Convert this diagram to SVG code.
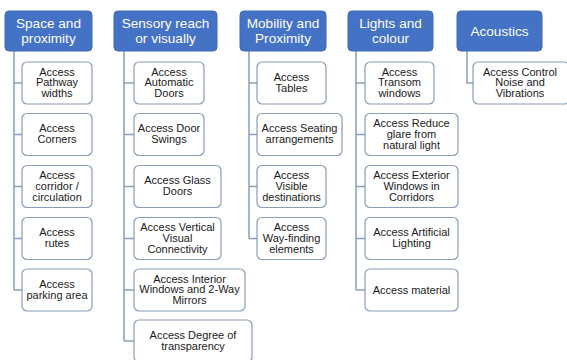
<svg xmlns="http://www.w3.org/2000/svg" width="567" height="360" viewBox="0 0 567 360">
<style>
.hd rect{fill:#4472C4;stroke:#3F69B5;stroke-width:1}
.hd text{fill:#fff;font-family:"Liberation Sans",Arial,sans-serif;font-size:13.6px;text-anchor:middle}
.bx rect{fill:#fff;stroke:#8A9DB8;stroke-width:1.2}
.bx text{fill:#1a1a1a;font-family:"Liberation Sans",Arial,sans-serif;font-size:11px;text-anchor:middle}
#connectors path{fill:none;stroke:#8A9DB8;stroke-width:1.5}
</style>
<rect width="567" height="360" fill="#fff"/>
<g id="connectors">
<path d="M14 51V290M14 83H22M14 134.5H22M14 186.5H22M14 238.5H22M14 290H22"/>
<path d="M124 51V341M124 83H134M124 134.5H134M124 186.5H134M124 238.5H134M124 290H134M124 341H134"/>
<path d="M249 51V238.5M249 83H257M249 134.5H257M249 186.5H257M249 238.5H257"/>
<path d="M356 51V290M356 83H365M356 134.5H365M356 186.5H365M356 238.5H365M356 290H365"/>
<path d="M467 51V83H473"/>
</g>
<g id="h1" class="hd"><rect x="5" y="11" width="87" height="40" rx="4"/><text x="48.5" y="28">Space and</text><text x="48.5" y="43.3">proximity</text></g>
<g id="h2" class="hd"><rect x="114" y="11" width="103" height="40" rx="4"/><text x="165.5" y="28">Sensory reach</text><text x="165.5" y="43.3">or visually</text></g>
<g id="h3" class="hd"><rect x="240" y="11" width="86" height="40" rx="4"/><text x="283" y="28">Mobility and</text><text x="283" y="43.3">Proximity</text></g>
<g id="h4" class="hd"><rect x="348" y="11" width="85" height="40" rx="4"/><text x="390.5" y="28">Lights and</text><text x="390.5" y="43.3">colour</text></g>
<g id="h5" class="hd"><rect x="457" y="11" width="85" height="40" rx="4"/><text x="499.5" y="35.5">Acoustics</text></g>

<g id="c1b1" class="bx"><rect x="22" y="62" width="70" height="42" rx="5"/><text x="57" y="75.5">Access</text><text x="57" y="86.3">Pathway</text><text x="57" y="97.1">widths</text></g>
<g id="c1b2" class="bx"><rect x="22" y="113.5" width="70" height="42" rx="5"/><text x="57" y="132.4">Access</text><text x="57" y="143.2">Corners</text></g>
<g id="c1b3" class="bx"><rect x="22" y="165.5" width="70" height="42" rx="5"/><text x="57" y="179">Access</text><text x="57" y="189.8">corridor /</text><text x="57" y="200.6">circulation</text></g>
<g id="c1b4" class="bx"><rect x="22" y="217.5" width="70" height="42" rx="5"/><text x="57" y="236.4">Access</text><text x="57" y="247.2">rutes</text></g>
<g id="c1b5" class="bx"><rect x="22" y="269" width="70" height="42" rx="5"/><text x="57" y="287.9">Access</text><text x="57" y="298.7">parking  area</text></g>

<g id="c2b1" class="bx"><rect x="134" y="62" width="70" height="42" rx="5"/><text x="169" y="75.5">Access</text><text x="169" y="86.3">Automatic</text><text x="169" y="97.1">Doors</text></g>
<g id="c2b2" class="bx"><rect x="134" y="113.5" width="70" height="42" rx="5"/><text x="169" y="132.4">Access Door</text><text x="169" y="143.2">Swings</text></g>
<g id="c2b3" class="bx"><rect x="134" y="165.5" width="87" height="42" rx="5"/><text x="177.5" y="184.4">Access Glass</text><text x="177.5" y="195.2">Doors</text></g>
<g id="c2b4" class="bx"><rect x="134" y="217.5" width="87" height="42" rx="5"/><text x="177.5" y="231">Access Vertical</text><text x="177.5" y="241.8">Visual</text><text x="177.5" y="252.6">Connectivity</text></g>
<g id="c2b5" class="bx"><rect x="134" y="269" width="111" height="42" rx="5"/><text x="189.5" y="282.5">Access Interior</text><text x="189.5" y="293.3">Windows  and  2-Way</text><text x="189.5" y="304.1">Mirrors</text></g>
<g id="c2b6" class="bx"><rect x="134" y="320" width="118" height="42" rx="5"/><text x="193" y="338.9">Access Degree of</text><text x="193" y="349.7">transparency</text></g>

<g id="c3b1" class="bx"><rect x="257" y="62" width="69" height="42" rx="5"/><text x="291.5" y="80.9">Access</text><text x="291.5" y="91.7">Tables</text></g>
<g id="c3b2" class="bx"><rect x="257" y="113.5" width="85" height="42" rx="5"/><text x="299.5" y="132.4">Access Seating</text><text x="299.5" y="143.2">arrangements</text></g>
<g id="c3b3" class="bx"><rect x="257" y="165.5" width="69" height="42" rx="5"/><text x="291.5" y="179">Access</text><text x="291.5" y="189.8">Visible</text><text x="291.5" y="200.6">destinations</text></g>
<g id="c3b4" class="bx"><rect x="257" y="217.5" width="69" height="42" rx="5"/><text x="291.5" y="231">Access</text><text x="291.5" y="241.8">Way-finding</text><text x="291.5" y="252.6">elements</text></g>

<g id="c4b1" class="bx"><rect x="365" y="62" width="69" height="42" rx="5"/><text x="399.5" y="75.5">Access</text><text x="399.5" y="86.3">Transom</text><text x="399.5" y="97.1">windows</text></g>
<g id="c4b2" class="bx"><rect x="365" y="113.5" width="93" height="42" rx="5"/><text x="411.5" y="127">Access Reduce</text><text x="411.5" y="137.8">glare  from</text><text x="411.5" y="148.6">natural  light</text></g>
<g id="c4b3" class="bx"><rect x="365" y="165.5" width="93" height="42" rx="5"/><text x="411.5" y="179">Access Exterior</text><text x="411.5" y="189.8">Windows  in</text><text x="411.5" y="200.6">Corridors</text></g>
<g id="c4b4" class="bx"><rect x="365" y="217.5" width="93" height="42" rx="5"/><text x="411.5" y="236.4">Access Artificial</text><text x="411.5" y="247.2">Lighting</text></g>
<g id="c4b5" class="bx"><rect x="365" y="269" width="93" height="42" rx="5"/><text x="411.5" y="293.8">Access material</text></g>

<g id="c5b1" class="bx"><rect x="473" y="62" width="96" height="42" rx="5"/><text x="520" y="75.5">Access Control</text><text x="520" y="86.3">Noise and</text><text x="520" y="97.1">Vibrations</text></g>
</svg>
